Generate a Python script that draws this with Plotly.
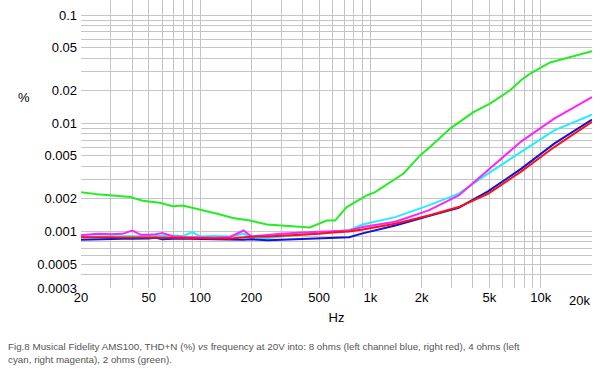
import plotly.graph_objects as go
import numpy as np

# Frequencies (Hz) shared by the 8-ohm and 4-ohm traces
freq = [20, 25, 30, 35, 40, 45, 50, 55, 60, 70, 80, 90, 100, 120, 150, 180, 200, 250, 300, 400, 500,
        600, 750, 900, 1400, 2200, 3300, 4900, 7700, 12000, 20000]

# THD+N (%) values
blue_left_8 = [0.00084, 0.00085, 0.000855, 0.000855, 0.000855, 0.000855, 0.00086, 0.000875, 0.000845, 0.000855,
               0.00086, 0.000855, 0.00085, 0.000845, 0.00084, 0.00084, 0.000845, 0.00083, 0.00084, 0.00085, 0.00086,
               0.00087, 0.000885, 0.00096, 0.001137, 0.001386, 0.001658, 0.00235, 0.00381, 0.00649, 0.0108]
red_right_8 = [0.000885, 0.00089, 0.000885, 0.00088, 0.000885, 0.00088, 0.00088, 0.000878, 0.000875, 0.00087,
               0.000865, 0.00087, 0.00086, 0.00086, 0.00086, 0.00088, 0.000895, 0.0009, 0.00091, 0.00093, 0.00095,
               0.00098, 0.001, 0.00104, 0.001178, 0.001406, 0.00168, 0.00223, 0.00359, 0.00603, 0.0103]
cyan_left_4 = [0.0009, 0.0009, 0.0009, 0.0009, 0.0009, 0.000905, 0.00091, 0.00091, 0.00091, 0.000915,
               0.00091, 0.000985, 0.0009, 0.00091, 0.0009, 0.00095, 0.000875, 0.00087, 0.0009, 0.00093, 0.00096,
               0.001, 0.00103, 0.00116, 0.001357, 0.00174, 0.002235, 0.00342, 0.00542, 0.00861, 0.012]
magenta_right_4 = [0.00092, 0.00095, 0.00094, 0.00095, 0.00102, 0.00093, 0.00093, 0.00094, 0.000965, 0.0009,
                   0.00089, 0.000885, 0.00088, 0.000875, 0.00089, 0.00102, 0.0009, 0.00093, 0.00095, 0.00098, 0.001,
                   0.001006, 0.00102, 0.0011, 0.00123, 0.001565, 0.002154, 0.0037, 0.00681, 0.01105, 0.0175]

# 2-ohm trace
freq_green = [20, 26, 39, 46, 58, 69, 79, 100, 126, 156, 196, 247, 386, 441, 554, 620, 726, 952, 1066, 1359,
              1573, 1957, 2240, 2937, 4025, 5040, 6610, 7750, 8670, 11350, 14840, 20000]
green_2 = [0.00231, 0.00219, 0.00208, 0.00192, 0.00184, 0.00171, 0.00174, 0.0016, 0.00146, 0.00133, 0.00126,
           0.00116, 0.0011, 0.00109, 0.00126, 0.00126, 0.00168, 0.00215, 0.00231, 0.00297, 0.00345, 0.00505,
           0.00603, 0.00893, 0.0127, 0.0152, 0.0202, 0.0254, 0.0288, 0.0365, 0.0411, 0.0464]

x_tick_vals = [20, 50, 100, 200, 500, 1000, 2000, 5000, 10000, 20000]
x_tick_text = ["20", "50", "100", "200", "500", "1k", "2k", "5k", "10k", "20k"]
y_tick_vals = [0.1, 0.05, 0.02, 0.01, 0.005, 0.002, 0.001, 0.0005, 0.0003]
y_tick_text = ["0.1", "0.05", "0.02", "0.01", "0.005", "0.002", "0.001", "0.0005", "0.0003"]

caption = ("Fig.8 Musical Fidelity AMS100, THD+N (%) <i>vs</i> frequency at 20V into: 8 ohms (left channel blue, right red), 4 ohms (left"
           "<br>cyan, right magenta), 2 ohms (green).")

# gridlines at every 1..9 multiple
xgrid = [m * 10 ** e for e in range(1, 5) for m in range(1, 10) if 20 <= m * 10 ** e <= 20000]
ygrid = [round(m * 10.0 ** e, 6) for e in range(-4, 0) for m in range(1, 10) if 0.0003 <= m * 10.0 ** e <= 0.1 + 1e-12]
ytick_round = [round(t, 6) for t in y_tick_vals]
# last x label (20k) is drawn as an annotation so it stays inside the page
xtext = [x_tick_text[x_tick_vals.index(v)] if (v in x_tick_vals and v != 20000) else "" for v in xgrid]
ytext = [y_tick_text[ytick_round.index(v)] if v in ytick_round else "" for v in ygrid]

fig = go.Figure()
series = [
    (freq_green, green_2, "#22ee22"),
    (freq, cyan_left_4, "#22eeff"),
    (freq, magenta_right_4, "#ff22ff"),
    (freq, blue_left_8, "#1010e0"),
    (freq, red_right_8, "#ff1010"),
]
for fx, fy, col in series:
    fig.add_trace(go.Scatter(x=fx, y=fy, mode="lines", line=dict(color=col, width=2), showlegend=False,
                             hoverinfo="skip"))

font = dict(family="Liberation Sans, Arial, sans-serif", size=13, color="#000000")
fig.update_layout(
    width=604, height=378,
    margin=dict(l=81, r=12, t=0, b=90),
    paper_bgcolor="white", plot_bgcolor="white",
    font=font,
    xaxis=dict(type="log", range=[np.log10(20), np.log10(20000)], tickvals=xgrid, ticktext=xtext,
               showgrid=True, gridcolor="#c4c4c4", gridwidth=1, zeroline=False, showline=False,
               ticks="", tickfont=font, automargin=False,
               title=dict(text="Hz", font=font, standoff=8)),
    yaxis=dict(type="log", range=[np.log10(0.0003), np.log10(0.138)], tickvals=ygrid, ticktext=ytext,
               showgrid=True, gridcolor="#c4c4c4", gridwidth=1, zeroline=False, showline=False,
               ticks="", tickfont=font, ticklabelstandoff=3, automargin=False),
    annotations=[
        dict(text="20k", xref="paper", yref="paper", x=1.0, y=0, yshift=-3, showarrow=False, font=font,
             xanchor="right", yanchor="top"),
        dict(text="%", xref="paper", yref="paper", x=(24 - 81) / 511, y=(288 - 97) / 288, showarrow=False,
             font=font, xanchor="center", yanchor="middle"),
        dict(text=caption, xref="paper", yref="paper", x=(6 - 81) / 511, y=(288 - 339) / 288, showarrow=False,
             xanchor="left", yanchor="top", align="left",
             font=dict(family="Liberation Sans, Arial, sans-serif", size=9.8, color="#555555")),
    ],
)
fig.write_html("out.html", config={"displayModeBar": False},
               post_script="document.body.style.margin='0';document.body.style.overflow='hidden';")
